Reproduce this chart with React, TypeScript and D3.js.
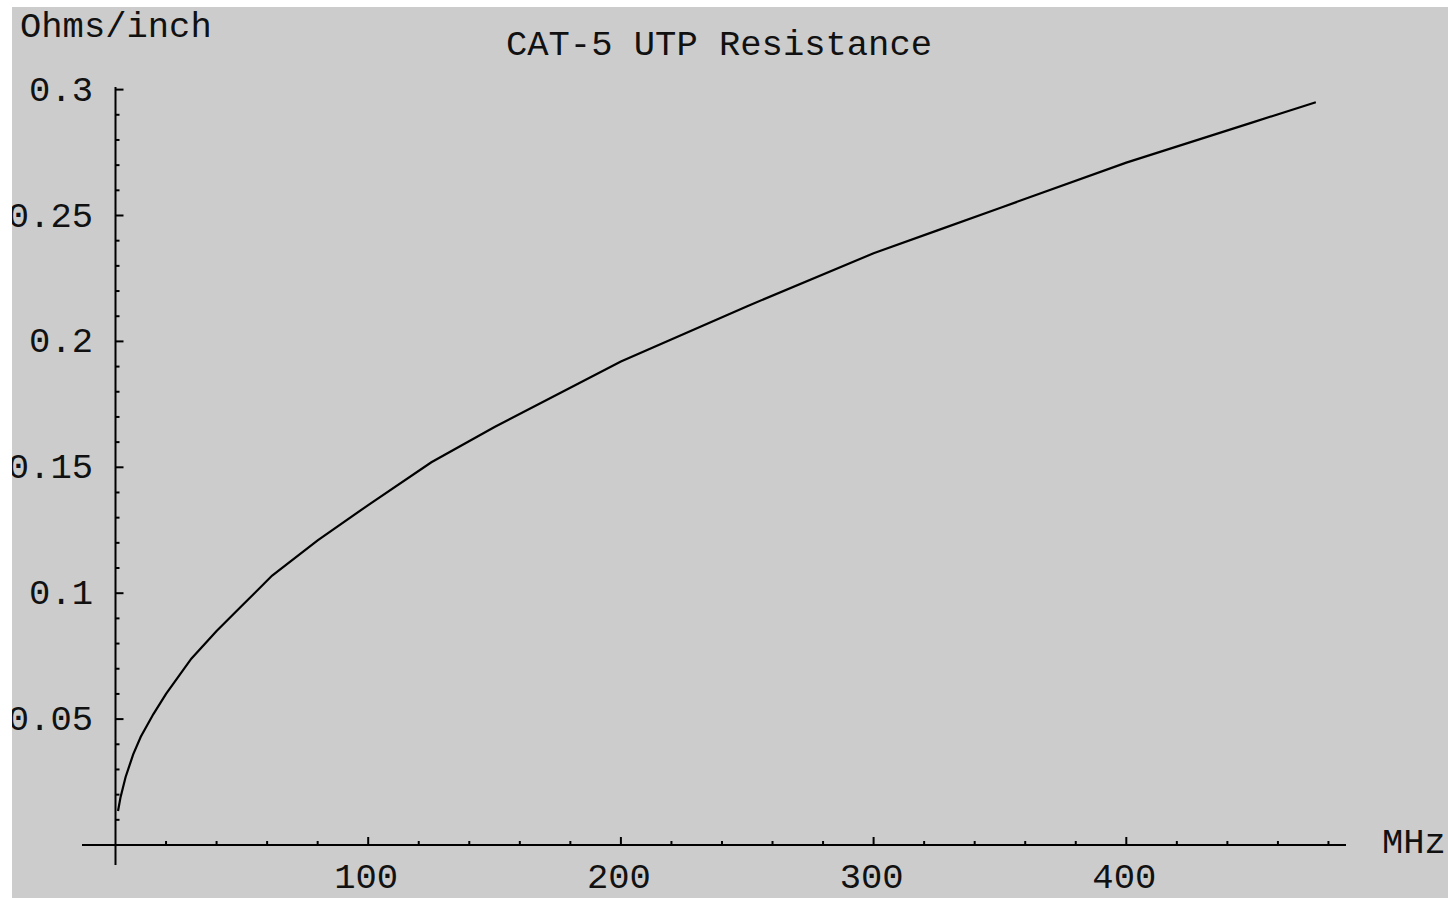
import React from "react";
import * as d3 from "d3";

const freqMHz = [1, 2, 4, 7, 10, 15, 20, 30, 40, 50, 62, 80, 100, 125, 150, 175, 200, 250, 300, 325, 350, 400, 450, 475];
const ohmsPerInch = [0.0135, 0.019, 0.027, 0.036, 0.043, 0.052, 0.06, 0.074, 0.085, 0.095, 0.107, 0.121, 0.135, 0.152, 0.166, 0.179, 0.192, 0.214, 0.235, 0.244, 0.253, 0.271, 0.287, 0.295];
const xTicks = [100, 200, 300, 400];
const yTicks = [0.05, 0.1, 0.15, 0.2, 0.25, 0.3];
const yTickLabels = ["0.05", "0.1", "0.15", "0.2", "0.25", "0.3"];
const title = "CAT-5 UTP Resistance";
const yLabel = "Ohms/inch";
const xLabel = "MHz";

const W = 1448;
const H = 898;
const FONT = "'Liberation Mono', 'Courier New', monospace";

export default function App() {
  const x = d3.scaleLinear().domain([0, 100]).range([115.5, 368.2]);
  const y = d3.scaleLinear().domain([0, 0.05]).range([845, 719.1]);
  const pts = freqMHz.map((f, i) => [f, ohmsPerInch[i]] as [number, number]);
  const line = d3.line<[number, number]>().x((d) => x(d[0])).y((d) => y(d[1]));
  const xMinor = d3.range(20, 481, 20).filter((v) => v % 100 !== 0);
  const yMinor = d3.range(1, 30).map((v) => v / 100).filter((v) => Math.round(v * 100) % 5 !== 0);
  const x0 = x(0);
  const y0 = y(0);
  return (
    <svg width={W} height={H} style={{ position: "absolute", left: 0, top: 0, background: "#fff" }}>
      <defs>
        <clipPath id="bg">
          <rect x={12} y={7} width={W - 12} height={H - 7} />
        </clipPath>
      </defs>
      <rect x={12} y={7} width={W - 12} height={H - 7} fill="#cccccc" />
      <g clipPath="url(#bg)" fontFamily={FONT} fontSize={35.5} fill="#111">
        <text x={20} y={37}>{yLabel}</text>
        <text x={719} y={55} textAnchor="middle">{title}</text>
        <text x={1382} y={853}>{xLabel}</text>
        {xTicks.map((t) => (
          <text key={t} x={x(t) - 2} y={888} textAnchor="middle">{t}</text>
        ))}
        {yTicks.map((t, i) => (
          <text key={t} x={93} y={y(t) + 11} textAnchor="end">{yTickLabels[i]}</text>
        ))}
        <line x1={82} x2={1346} y1={y0} y2={y0} stroke="#000" strokeWidth={2} />
        <line x1={x0} x2={x0} y1={87} y2={865} stroke="#000" strokeWidth={2} />
        {xTicks.map((t) => (
          <line key={t} x1={x(t)} x2={x(t)} y1={y0} y2={y0 - 8} stroke="#000" strokeWidth={2} />
        ))}
        {xMinor.map((t) => (
          <line key={t} x1={x(t)} x2={x(t)} y1={y0} y2={y0 - 4} stroke="#000" strokeWidth={2} />
        ))}
        {yTicks.map((t) => (
          <line key={t} x1={x0} x2={x0 + 8} y1={y(t)} y2={y(t)} stroke="#000" strokeWidth={2} />
        ))}
        {yMinor.map((t) => (
          <line key={t} x1={x0} x2={x0 + 4} y1={y(t)} y2={y(t)} stroke="#000" strokeWidth={2} />
        ))}
        <path d={line(pts) || ""} fill="none" stroke="#000" strokeWidth={2.2} />
      </g>
    </svg>
  );
}
